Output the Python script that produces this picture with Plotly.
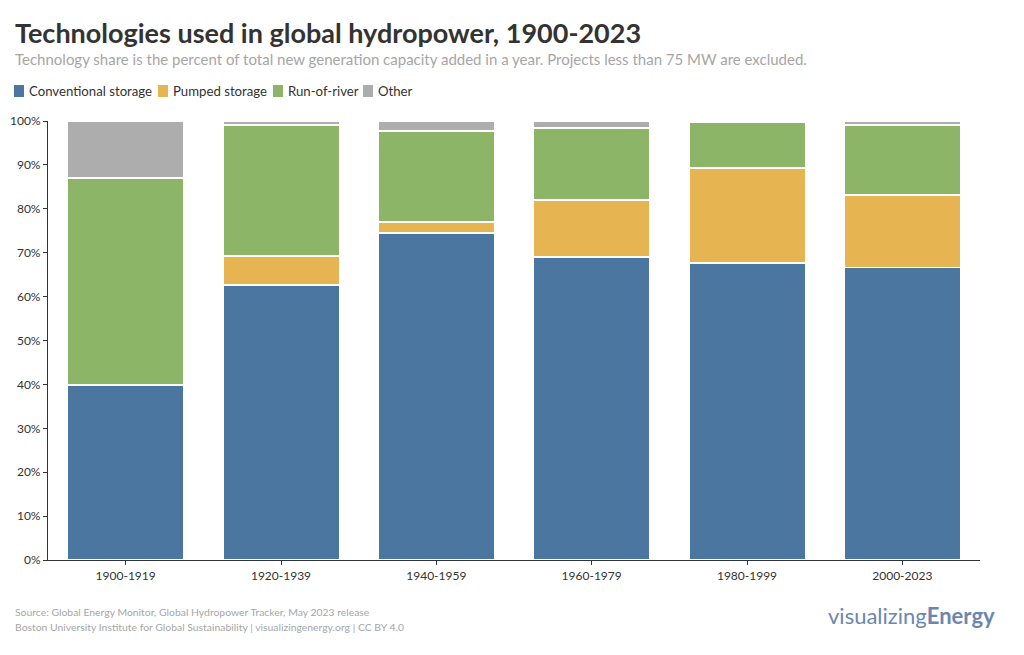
import plotly.graph_objects as go

periods = ["1900-1919", "1920-1939", "1940-1959", "1960-1979", "1980-1999", "2000-2023"]
conventional = [39.9, 62.7, 74.5, 69.0, 67.7, 66.6]
pumped = [0.0, 6.5, 2.5, 13.0, 21.6, 16.5]
run_of_river = [47.1, 29.9, 20.7, 16.4, 10.4, 16.0]
other = [13.0, 0.9, 2.3, 1.6, 0.3, 0.9]
y_ticks = [0, 10, 20, 30, 40, 50, 60, 70, 80, 90, 100]
y_tick_labels = [f"{v}%" for v in y_ticks]

series_names = ["Conventional storage", "Pumped storage", "Run-of-river", "Other"]
series_values = [conventional, pumped, run_of_river, other]
series_colors = ["#4a76a0", "#e6b552", "#8db568", "#adadad"]

W, H = 1024, 655
L, R, T, B = 48, 44, 121, 95
PW, PH = W - L - R, H - T - B


def px(xp):
    return (xp - L) / PW


def py(yp):
    return (H - B - yp) / PH


font = "Lato"
fig = go.Figure()
for name, vals, col in zip(series_names, series_values, series_colors):
    fig.add_trace(go.Bar(
        x=periods, y=vals, name=name, showlegend=False,
        marker=dict(color=col, line=dict(color="white", width=1.5)),
        hovertemplate="%{x}: %{y:.1f}%<extra>" + name + "</extra>",
    ))

annotations = [
    dict(text="<b>Technologies used in global hydropower, 1900-2023</b>",
         x=px(13), y=py(33), xanchor="left", yanchor="middle",
         font=dict(size=27, color="#333333")),
    dict(text="Technology share is the percent of total new generation capacity added in a year. Projects less than 75 MW are excluded.",
         x=px(13), y=py(59), xanchor="left", yanchor="middle",
         font=dict(size=15, color="#a6a6a6")),
    dict(text="Source: Global Energy Monitor, Global Hydropower Tracker, May 2023 release",
         x=px(13), y=py(612), xanchor="left", yanchor="middle",
         font=dict(size=10.4, color="#a6a6a6")),
    dict(text="Boston University Institute for Global Sustainability | visualizingenergy.org | CC BY 4.0",
         x=px(13), y=py(627), xanchor="left", yanchor="middle",
         font=dict(size=10.4, color="#a6a6a6")),
    dict(text="visualizing<b>Energy</b>",
         x=px(997), y=py(615), xanchor="right", yanchor="middle",
         font=dict(size=22, color="#6b87b0")),
]

shapes = []
legend_x = [14, 158, 273, 363]
for name, col, lx in zip(series_names, series_colors, legend_x):
    x0, x1 = px(lx), px(lx + 10)
    y0, y1 = py(97), py(85)
    shapes.append(dict(type="rect", xref="paper", yref="paper",
                       x0=x0, x1=x1, y0=y0, y1=y1,
                       fillcolor=col, line=dict(width=0)))
    annotations.append(dict(text=name, x=px(lx + 13), y=py(91),
                            xanchor="left", yanchor="middle",
                            font=dict(size=13.2, color="#333333")))

for a in annotations:
    a.update(xref="paper", yref="paper", showarrow=False)

fig.update_layout(
    barmode="stack",
    bargap=0.25,
    width=W, height=H,
    paper_bgcolor="white", plot_bgcolor="white",
    margin=dict(l=L, r=R, t=T, b=B, autoexpand=False),
    font=dict(family=font, color="#333333"),
    showlegend=False,
    xaxis=dict(
        showline=True, linecolor="#333333", linewidth=1.2,
        ticks="outside", ticklen=4, tickcolor="#333333",
        tickfont=dict(size=12, color="#333333"), range=[-0.5, 5.5],
        automargin=False,
    ),
    yaxis=dict(
        range=[0, 100], tickvals=y_ticks, ticktext=y_tick_labels,
        showline=True, linecolor="#333333", linewidth=1.2,
        ticks="outside", ticklen=4, tickcolor="#333333",
        showgrid=False, zeroline=False, automargin=False,
        tickfont=dict(size=12, color="#333333"),
    ),
    annotations=annotations,
    shapes=shapes,
)

fig.write_html(
    "out.html",
    config={"displayModeBar": False},
    post_script="document.body.style.margin='0';document.body.style.overflow='hidden';",
)
